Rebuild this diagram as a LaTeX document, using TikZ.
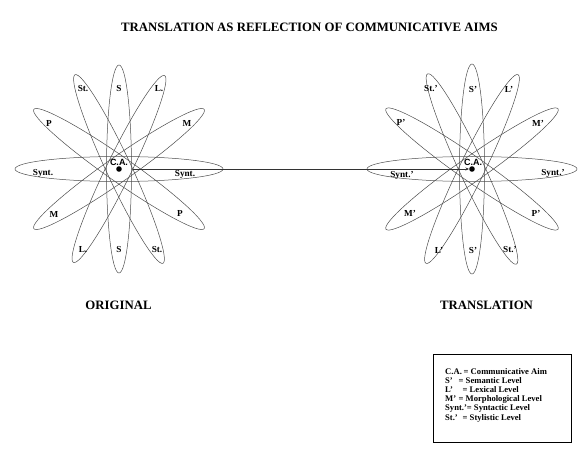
\documentclass[tikz,border=0pt]{standalone}
\usepackage{fontspec}
\setmainfont{Liberation Serif}
\newfontfamily\casans{Liberation Sans}
\usetikzlibrary{arrows.meta,positioning,calc}

\tikzset{
  petal/.style={draw=black!70, line width=0.5pt},
  lbl/.style={font=\fontsize{9.2}{10}\selectfont\bfseries, inner sep=0pt},
  dot/.style={circle, fill=black, inner sep=0pt, minimum size=5.6pt},
  heading/.style={font=\fontsize{12.8}{14}\selectfont\bfseries},
}

\begin{document}
\begin{tikzpicture}[x=1pt, y=1pt]
  \useasboundingbox (0,0) rectangle (587,461);

  \node[heading] (title) at (309.5,434) {TRANSLATION AS REFLECTION OF COMMUNICATIVE AIMS};

  % Centres (communicative aims)
  \node[dot] (ca1) at (119,292) {};
  \node[dot] (ca2) at (472,292) {};

  % Original: six levels
  \foreach \a in {0,35,64,90,115,145}
    \draw[petal, rotate around={\a:(ca1)}] (ca1) ellipse [x radius=104, y radius=12.5];
  \foreach \dx/\dy/\t in {-36/80/St., 0/80/S, 40/80/L., -70/46/P, 68/46/M,
      -76/-4/Synt., 66/-5/Synt., -65/-45/M, 61/-44/P, -36/-81/L., 0/-81/S, 38/-81/St.}
    \node[lbl] at ($(ca1)+(\dx,\dy)$) {\t};

  % Translation: six levels
  \foreach \a in {0,35,64,90,115,145}
    \draw[petal, rotate around={\a:(ca2)}] (ca2) ellipse [x radius=105, y radius=12.5];
  \foreach \dx/\dy/\t in {-41/80/St.', 1/80/S', 37/80/L', -71/47/P', 66/46/M',
      -70/-6/Synt.', 81/-4/Synt.', -62/-44/M', 64/-44/P', -33/-81/L', 1/-81/S', 38/-81/St.'}
    \node[lbl] at ($(ca2)+(\dx,\dy)$) {\t};

  \node[font=\casans\fontsize{9}{10}\selectfont\bfseries, anchor=base, inner sep=0pt] (ca1txt) at ($(ca1)+(0,3.5)$) {C.A.};
  \node[font=\casans\fontsize{9}{10}\selectfont\bfseries, anchor=base, inner sep=0pt] (ca2txt) at ($(ca2)+(1,3.5)$) {C.A.};

  \draw[black!80, line width=0.5pt, shorten <=11pt, -{Stealth[length=3.5pt, width=3pt]}] (ca1) -- (ca2);

  \node[heading] (orig) at (118.5,156) {ORIGINAL};
  \node[heading] (trans) at (486.5,156) {TRANSLATION};

  % Legend
  \node[draw, line width=1pt, minimum width=138pt, minimum height=88pt, anchor=north west] (legend) at (433,107) {};
  \node[anchor=north west, align=left, inner sep=0pt, font=\fontsize{8.6}{9.2}\selectfont\bfseries]
    (legendtxt) at ($(legend.north west)+(12,-14)$)
    {\makebox[18.5pt][l]{C.A.}= Communicative Aim\\
     \makebox[13.5pt][l]{S'}= Semantic Level\\
     \makebox[17.5pt][l]{L'}= Lexical Level\\
     \makebox[13.5pt][l]{M'}= Morphological Level\\
     Synt.'= Syntactic Level\\
     \makebox[17.5pt][l]{St.'}= Stylistic Level};
\end{tikzpicture}
\end{document}
